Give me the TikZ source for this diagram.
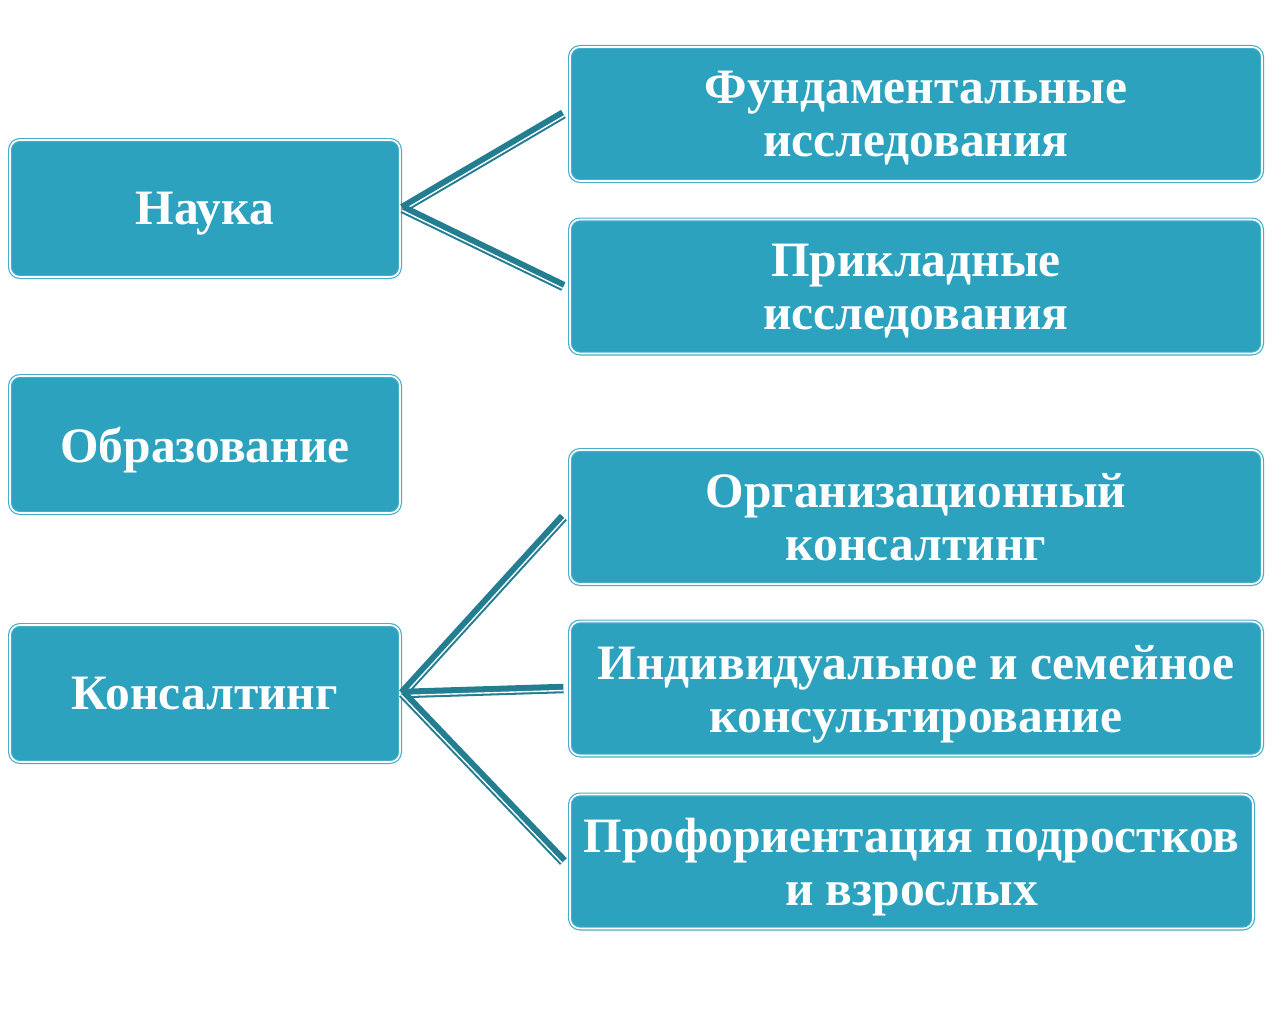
\documentclass[tikz,border=0pt]{standalone}
\usepackage{fontspec}
\setmainfont{Liberation Serif}
\usetikzlibrary{calc}
\definecolor{boxfill}{HTML}{2CA2BE}
\definecolor{boxline}{HTML}{45AEC8}
\definecolor{linkcol}{HTML}{237E92}
\begin{document}
\begin{tikzpicture}[x=1pt,y=-1pt,
    box/.style={rectangle,rounded corners=10pt,fill=boxfill,draw=boxline,
      line width=1.2pt,double=white,double distance=1.6pt,
      text=white,align=center,inner sep=0pt,text depth=0pt,
      font=\fontsize{49.5}{53}\selectfont\bfseries},
    leftbox/.style={box,minimum width=390pt,minimum height=137pt},
    rightbox/.style={box,minimum width=692pt,minimum height=134pt},
    link/.style={draw=linkcol,line width=9.5pt},
    linkgap/.style={draw=white,line width=1.4pt}]
    \useasboundingbox (0,0) rectangle (1284,1033);
    \node [leftbox] (nauka) at (205,208.5) {Наука};
    \node [leftbox] (obraz) at (205,444.5) {Образование};
    \node [leftbox] (kons) at (205,693.5) {Консалтинг};
    \node [rightbox] (fund) at (916,114) {Фундаментальные\\исследования};
    \node [rightbox] (prikl) at (916,286.5) {Прикладные\\исследования};
    \node [rightbox] (org) at (916,517) {Организационный\\консалтинг};
    \node [rightbox] (indiv) at (916,688.5) {Индивидуальное и семейное\\консультирование};
    \node [rightbox,minimum width=683pt] (prof) at (911.5,861.5)
      {Профориентация подростков\\и взрослых};
      \foreach \a/\b in {nauka/fund,nauka/prikl,kons/org,kons/indiv,kons/prof} {
        \coordinate (s) at ([xshift=2pt]\a.east);
        \coordinate (e) at ([xshift=-6pt]\b.west);
        \draw [link] (s) -- (e);
        \draw [linkgap] ($(s)!2pt!-90:(e)$) -- ($(e)!2pt!90:(s)$);
      }
  \end{tikzpicture}
\end{document}
